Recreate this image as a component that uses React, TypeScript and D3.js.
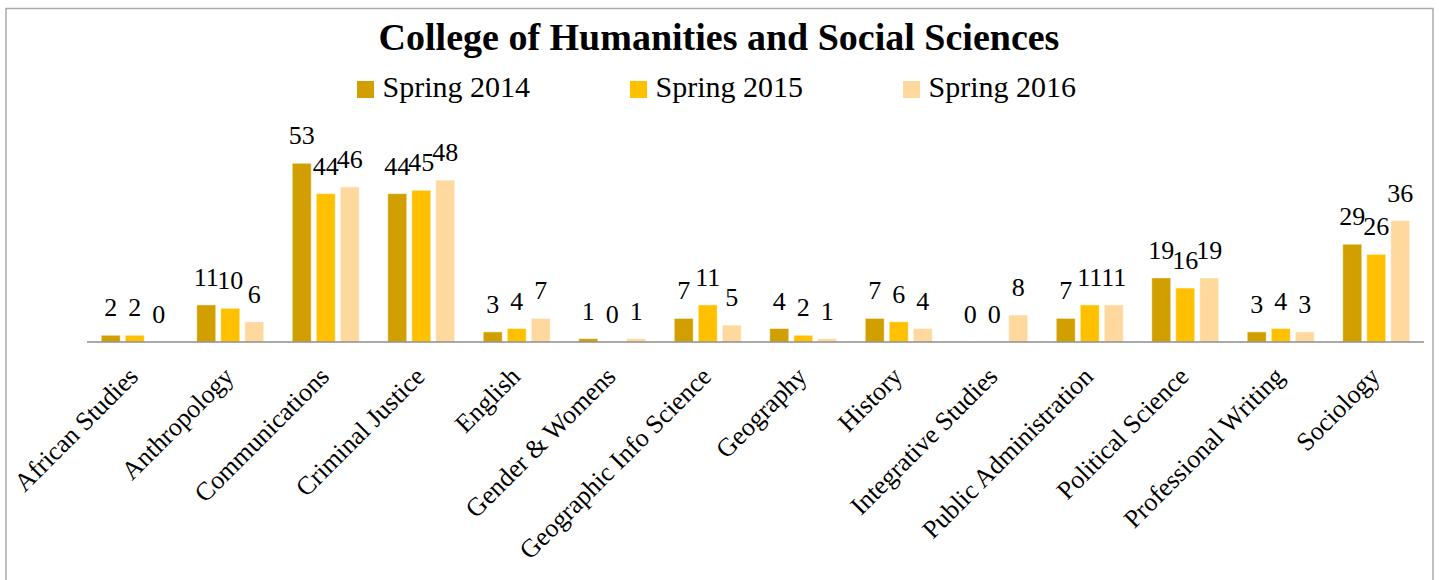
import React from "react";
import * as d3 from "d3";

const categories = [
  "African Studies",
  "Anthropology",
  "Communications",
  "Criminal Justice",
  "English",
  "Gender & Womens",
  "Geographic Info Science",
  "Geography",
  "History",
  "Integrative Studies",
  "Public Administration",
  "Political Science",
  "Professional Writing",
  "Sociology",
];

const seriesNames = ["Spring 2014", "Spring 2015", "Spring 2016"];
const spring2014 = [2, 11, 53, 44, 3, 1, 7, 4, 7, 0, 7, 19, 3, 29];
const spring2015 = [2, 10, 44, 45, 4, 0, 11, 2, 6, 0, 11, 16, 4, 26];
const spring2016 = [0, 6, 46, 48, 7, 1, 5, 1, 4, 8, 11, 19, 3, 36];
const seriesValues = [spring2014, spring2015, spring2016];
const seriesColors = ["#D29F00", "#FFC000", "#FFD89E"];

const W = 1439;
const H = 580;
const FONT = '"Palatino Linotype", "Book Antiqua", Palatino, "Liberation Serif", serif';

const App = () => {
  // plot area
  const x0 = d3.scaleBand<string>().domain(categories).range([87, 1424]).padding(0);
  const x1 = d3
    .scaleBand<string>()
    .domain(seriesNames)
    .range([14.25, 81.25])
    .paddingInner(5 / 24)
    .paddingOuter(0);
  const y = d3.scaleLinear().domain([0, 60]).range([342, 342 - 60 * 3.372]);
  const baseY = y(0);

  const legendX = d3.scaleOrdinal<string, number>().domain(seriesNames).range([357, 630, 903]);

  return (
    <svg
      width={W}
      height={H}
      style={{ position: "absolute", left: 0, top: 0, display: "block" }}
      fontFamily={FONT}
    >
      <rect x={0} y={0} width={W} height={H} fill="#fff" />
      <rect x={6} y={8.5} width={1427} height={620} fill="none" stroke="#ababab" strokeWidth={1.5} />

      <text x={719} y={50} textAnchor="middle" fontWeight="bold" fontSize={38} fill="#000">
        College of Humanities and Social Sciences
      </text>

      {seriesNames.map((s, i) => (
        <g key={s} transform={`translate(${legendX(s)},0)`}>
          <rect x={0} y={81} width={17} height={17} fill={seriesColors[i]} />
          <text x={25.5} y={97} fontSize={30} fill="#000">
            {s}
          </text>
        </g>
      ))}

      {categories.map((c, ci) => (
        <g key={c} transform={`translate(${x0(c)},0)`}>
          {seriesNames.map((s, si) => {
            const v = seriesValues[si][ci];
            const bx = x1(s)!;
            const top = y(v);
            return (
              <g key={s}>
                {v > 0 && (
                  <rect
                    x={bx}
                    y={top}
                    width={x1.bandwidth()}
                    height={baseY - top}
                    fill={seriesColors[si]}
                    stroke="#fff"
                    strokeOpacity={0.5}
                    strokeWidth={1}
                  />
                )}
                <text
                  x={bx + x1.bandwidth() / 2}
                  y={top - 19}
                  textAnchor="middle"
                  fontSize={26}
                  fill="#000"
                >
                  {v}
                </text>
              </g>
            );
          })}
        </g>
      ))}

      <line x1={87} x2={1424} y1={baseY} y2={baseY} stroke="#8c8c8c" strokeWidth={1.5} />

      {categories.map((c) => {
        const cx = x0(c)! + x0.bandwidth() / 2;
        return (
          <text
            key={c}
            transform={`translate(${cx + 5},${baseY + 36}) rotate(-45)`}
            textAnchor="end"
            fontSize={26}
            fill="#000"
          >
            {c}
          </text>
        );
      })}
    </svg>
  );
};

export default App;
